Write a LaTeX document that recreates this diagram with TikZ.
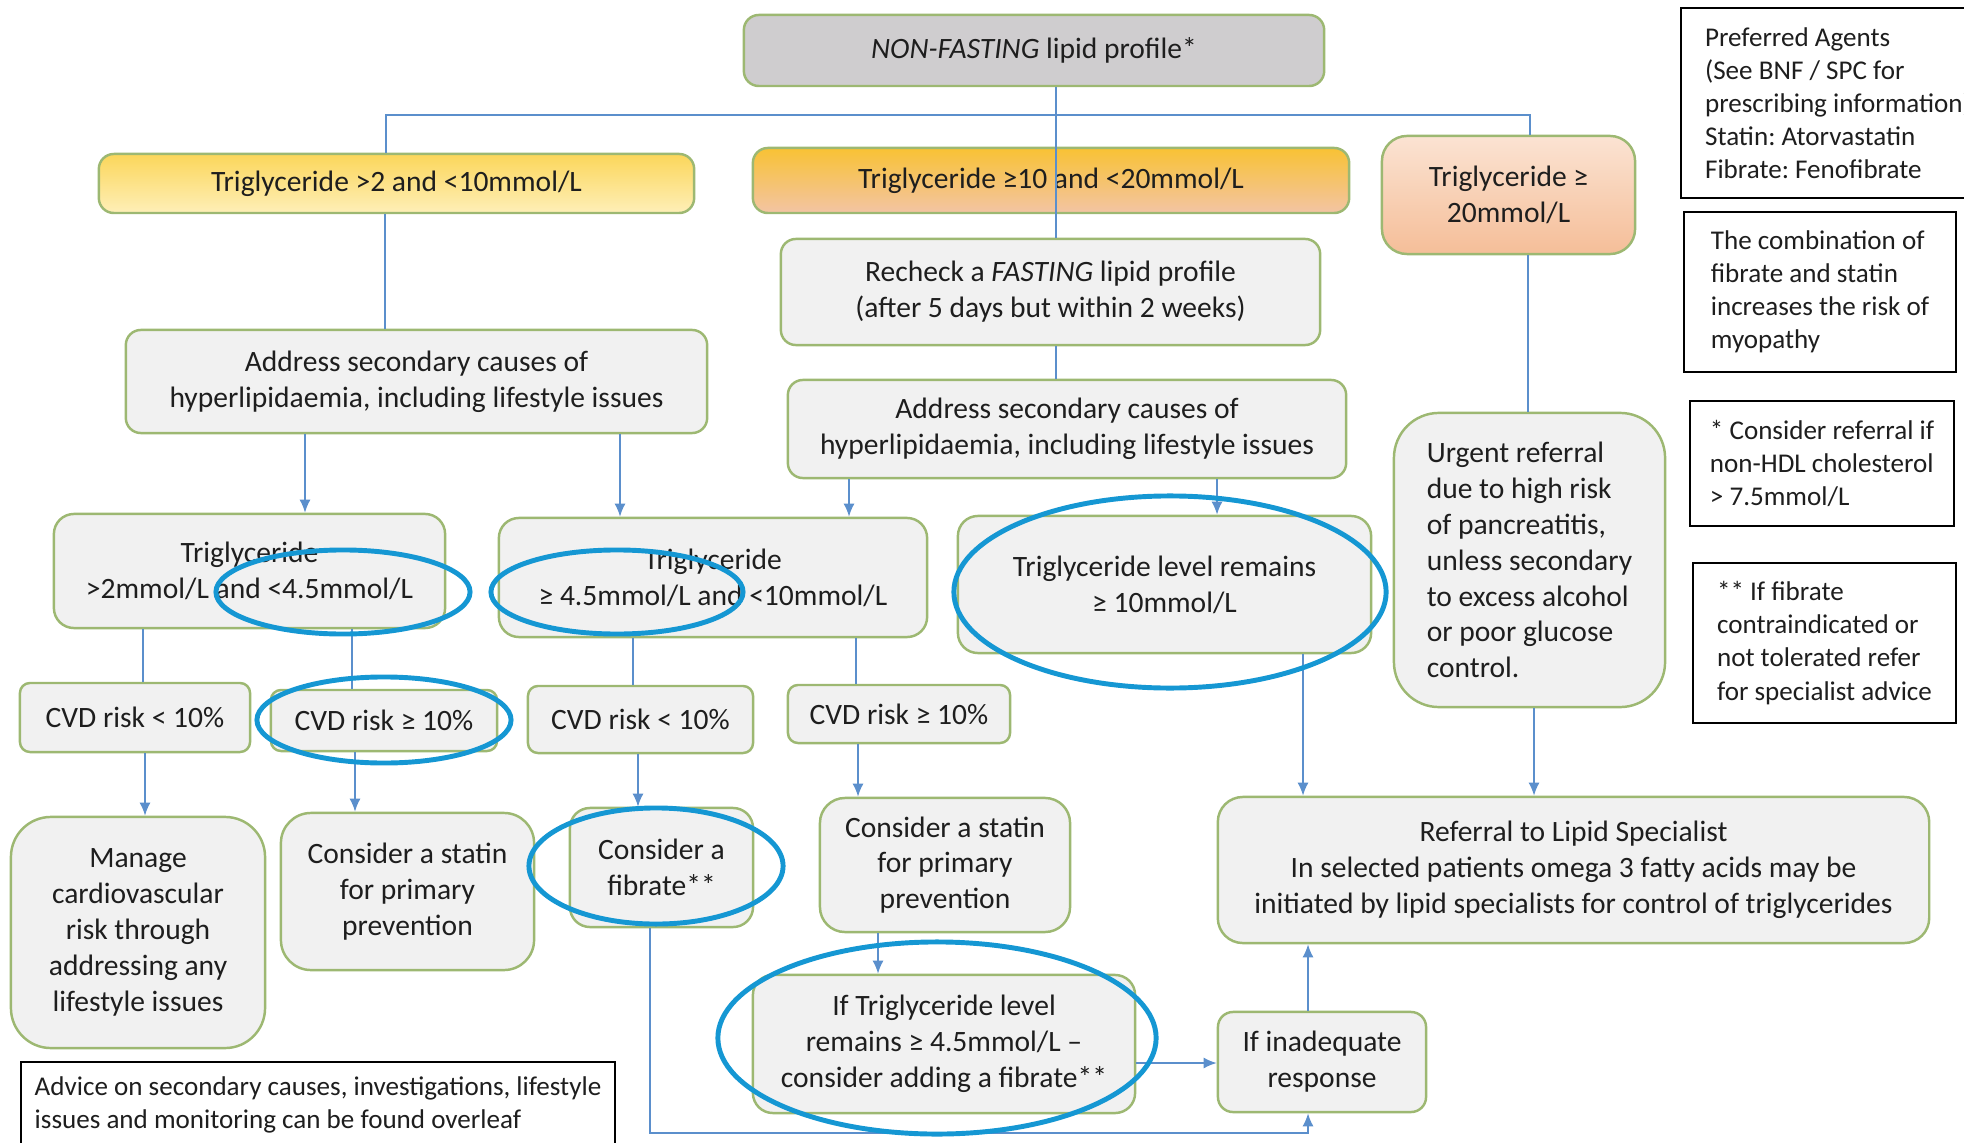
\documentclass[tikz,border=0pt]{standalone}
\usepackage{fontspec}
\setmainfont{Carlito}
\frenchspacing
\usetikzlibrary{arrows.meta}
\definecolor{boxedge}{HTML}{9DB872}
\definecolor{boxfill}{HTML}{F1F1F1}
\definecolor{topfill}{HTML}{CFCDCF}
\definecolor{lowtop}{HTML}{FBD65A}
\definecolor{lowbot}{HTML}{FEEFB8}
\definecolor{midtop}{HTML}{F8C234}
\definecolor{midbot}{HTML}{F3C4A4}
\definecolor{hightop}{HTML}{FBE3D3}
\definecolor{highbot}{HTML}{F5BE98}
\definecolor{linkblue}{HTML}{5B8FCC}
\definecolor{ringblue}{HTML}{1597D3}
\definecolor{ink}{HTML}{1E1E1E}
\newcommand{\notesize}{\fontsize{7.7}{9.4}\selectfont}
\tikzset{
  flow/.style={draw=boxedge, fill=boxfill, line width=0.7pt, rounded corners=0.15cm, align=center, inner sep=0pt, text=ink},
  note/.style={draw=black, line width=0.6pt, fill=white, align=left, inner sep=0pt, text=ink, font=\notesize},
  wh/.style 2 args={minimum width=#1cm, minimum height=#2cm},
  link/.style={draw=linkblue, line width=0.5pt},
  arr/.style={link, -{Latex[length=1.3mm, width=1.1mm]}},
  ring/.style={draw=ringblue, line width=1.4pt},
}
\begin{document}
\begin{tikzpicture}[x=0.01cm, y=-0.01cm, font=\fontsize{8.4}{10.2}\selectfont]
\useasboundingbox (0,0) rectangle (1964,1143);
\clip (0,0) rectangle (1964,1143);

\node[flow, fill=topfill, wh={5.80}{0.71}] (top) at (1034,50.5) {\textit{NON-FASTING} lipid profile*};
\node[flow, top color=lowtop, bottom color=lowbot, wh={5.95}{0.59}] (T1) at (396.5,183.5) {Triglyceride >2 and <10mmol/L};
\node[flow, top color=midtop, bottom color=midbot, wh={5.96}{0.65}] (T2) at (1051,180.5) {Triglyceride ≥10 and <20mmol/L};
\node[flow, top color=hightop, bottom color=highbot, rounded corners=0.25cm, wh={2.53}{1.18}] (T3) at (1508.5,195) {Triglyceride ≥\\20mmol/L};

\node[flow, wh={5.39}{1.06}] (recheck) at (1050.5,292) {Recheck a \textit{FASTING} lipid profile\\(after 5 days but within 2 weeks)};
\node[flow, wh={5.81}{1.03}] (address1) at (416.5,381.5) {Address secondary causes of\\hyperlipidaemia, including lifestyle issues};
\node[flow, wh={5.58}{0.98}] (address2) at (1067,429) {Address secondary causes of\\hyperlipidaemia, including lifestyle issues};
\node[flow, rounded corners=0.45cm, align=left, wh={2.71}{2.94}] (urgent) at (1529.5,560) {Urgent referral\\due to high risk\\of pancreatitis,\\unless secondary\\to excess alcohol\\or poor glucose\\control.};

\node[note, wh={3.14}{1.90}] (agents) at (1838,103) {Preferred Agents\\(See BNF / SPC for\\prescribing information)\\Statin: Atorvastatin\\Fibrate: Fenofibrate};
\node[note, wh={2.72}{1.60}] (combo) at (1820,292) {The combination of\\fibrate and statin\\increases the risk of\\myopathy};
\node[note, wh={2.64}{1.25}] (star) at (1822,463.5) {* Consider referral if\\non-HDL cholesterol\\> 7.5mmol/L};
\node[note, wh={2.63}{1.60}] (dstar) at (1824.5,643) {** If fibrate\\contraindicated or\\not tolerated refer\\for specialist advice};

\node[flow, rounded corners=0.2cm, wh={3.91}{1.14}] (TA) at (249.5,571) {Triglyceride\\>2mmol/L and <4.5mmol/L};
\node[flow, rounded corners=0.2cm, wh={4.28}{1.19}] (TB) at (713,577.5) {Triglyceride\\≥ 4.5mmol/L and <10mmol/L};
\node[flow, rounded corners=0.2cm, wh={4.13}{1.37}] (TC) at (1164.5,584.5) {Triglyceride level remains\\≥ 10mmol/L};

\node[flow, rounded corners=0.1cm, wh={2.30}{0.69}] (C1) at (135,717.5) {CVD risk < 10\%};
\node[flow, rounded corners=0.1cm, wh={2.26}{0.61}] (C2) at (384,720.5) {CVD risk ≥ 10\%};
\node[flow, rounded corners=0.1cm, wh={2.25}{0.67}] (C3) at (640.5,719.5) {CVD risk < 10\%};
\node[flow, rounded corners=0.1cm, wh={2.22}{0.58}] (C4) at (899,714) {CVD risk ≥ 10\%};

\node[flow, rounded corners=0.4cm, wh={2.54}{2.31}] (M1) at (138,932.5) {Manage\\cardiovascular\\risk through\\addressing any\\lifestyle issues};
\node[flow, rounded corners=0.3cm, wh={2.53}{1.57}] (M2) at (407.5,891.5) {Consider a statin\\for primary\\prevention};
\node[flow, rounded corners=0.2cm, wh={1.83}{1.19}] (M3) at (661.5,867.5) {Consider a\\fibrate**};
\node[flow, rounded corners=0.25cm, wh={2.50}{1.34}] (M4) at (945,865) {Consider a statin\\for primary\\prevention};
\node[flow, rounded corners=0.25cm, wh={7.11}{1.46}] (R) at (1573.5,870) {Referral to Lipid Specialist\\In selected patients omega 3 fatty acids may be\\initiated by lipid specialists for control of triglycerides};
\node[flow, rounded corners=0.2cm, wh={3.82}{1.38}] (F) at (944,1044) {If Triglyceride level\\remains ≥ 4.5mmol/L –\\consider adding a fibrate**};
\node[flow, rounded corners=0.15cm, wh={2.08}{1.00}] (I) at (1322,1062) {If inadequate\\response};
\node[note, wh={5.94}{0.85}] (advice) at (318,1104.5) {Advice on secondary causes, investigations, lifestyle\\issues and monitoring can be found overleaf};

\coordinate (busL) at (386,115);
\coordinate (busR) at (1530,115);
\coordinate (loop) at (650,1133);

\path[link] (top.south -| 1056,0) -- (recheck.north -| 1056,0);
\path[link] (T1.north -| busL) -- (busL) -- (busR) -- (T3.north -| busR);
\path[link] (T1.south -| 385,0) -- (address1.north -| 385,0);
\path[link] (recheck.south -| 1056,0) -- (address2.north -| 1056,0);
\path[link] (T3.south -| 1528,0) -- (urgent.north -| 1528,0);

\path[arr] (address1.south -| 305,0) -- (TA.north -| 305,0);
\path[arr] (address1.south -| 620,0) -- (TB.north -| 620,0);
\path[arr] (address2.south -| 849,0) -- (TB.north -| 849,0);
\path[arr] (address2.south -| 1217,0) -- (TC.north -| 1217,0);

\path[link] (TA.south -| 143,0) -- (C1.north -| 143,0);
\path[link] (TA.south -| 352,0) -- (C2.north -| 352,0);
\path[link] (TB.south -| 633,0) -- (C3.north -| 633,0);
\path[link] (TB.south -| 856,0) -- (C4.north -| 856,0);

\path[arr] (C1.south -| 145,0) -- (M1.north -| 145,0);
\path[arr] (C2.south -| 355,0) -- (M2.north -| 355,0);
\path[arr] (C3.south -| 638,0) -- (M3.north -| 638,0);
\path[arr] (C4.south -| 858,0) -- (M4.north -| 858,0);

\path[arr] (TC.south -| 1303,0) -- (R.north -| 1303,0);
\path[arr] (urgent.south -| 1534,0) -- (R.north -| 1534,0);
\path[arr] (M4.south -| 878,0) -- (F.north -| 878,0);
\path[arr] (F.east |- 0,1063) -- (I.west |- 0,1063);
\path[arr] (I.north -| 1308,0) -- (R.south -| 1308,0);
\path[arr] (M3.south -| loop) -- (loop) -| (I.south -| 1308,0);

\draw[ring] (343,592) ellipse [x radius=1.27cm, y radius=0.42cm];
\draw[ring] (617,592) ellipse [x radius=1.26cm, y radius=0.42cm];
\draw[ring] (384,720) ellipse [x radius=1.27cm, y radius=0.43cm];
\draw[ring] (656,866) ellipse [x radius=1.27cm, y radius=0.58cm];
\draw[ring] (1170,592) ellipse [x radius=2.16cm, y radius=0.96cm];
\draw[ring] (937,1038) ellipse [x radius=2.19cm, y radius=0.96cm];
\end{tikzpicture}
\end{document}
